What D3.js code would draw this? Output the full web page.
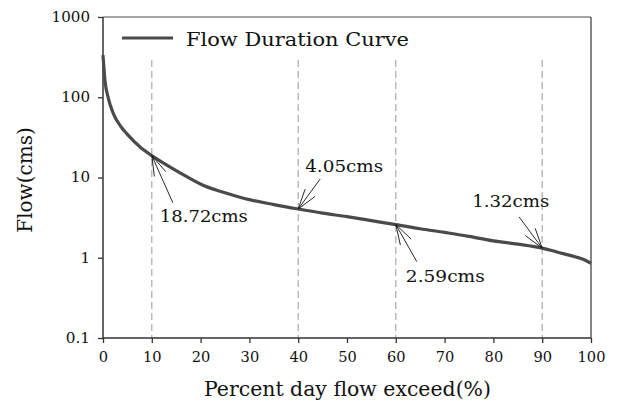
<!DOCTYPE html>
<html>
<head>
<meta charset="utf-8">
<script src="https://cdn.jsdelivr.net/npm/d3@7"></script>
<style>
  html, body { margin: 0; padding: 0; background: #fff; }
  svg { display: block; font-family: "DejaVu Serif", serif; }
</style>
</head>
<body>
<svg id="chart" width="618" height="402"></svg>
<script>
// ---- data ----
const percent = [0, 0.4, 1.1, 2.1, 3.8, 4.9, 7.6, 10, 12.5, 15.7, 20.5, 26, 30, 35, 40, 45, 50, 55, 60, 65, 70, 75, 80, 85, 90, 93, 96.7, 98.5, 100];
const flow    = [335, 163, 97, 63, 42, 35, 24, 18.72, 15, 11.5, 8, 6.2, 5.3, 4.6, 4.05, 3.6, 3.25, 2.9, 2.59, 2.3, 2.07, 1.85, 1.62, 1.48, 1.32, 1.18, 1.03, 0.95, 0.85];
const xTicks = [0, 10, 20, 30, 40, 50, 60, 70, 80, 90, 100];
const yTicks = [0.1, 1, 10, 100, 1000];
const yTickLabels = ["0.1", "1", "10", "100", "1000"];
const markPercent = [10, 40, 60, 90];
const markValue = [18.72, 4.05, 2.59, 1.32];
const markLabel = ["18.72cms", "4.05cms", "2.59cms", "1.32cms"];
const seriesName = "Flow Duration Curve";
const xTitle = "Percent day flow exceed(%)";
const yTitle = "Flow(cms)";

// ---- layout ----
const margin = {left: 103, right: 27, top: 17, bottom: 64};
const W = 618, H = 402;
const iw = W - margin.left - margin.right;
const ih = H - margin.top - margin.bottom;
// annotation layout: arrow tail offset from tip, label offset from tip, label width
const annLayout = [
  {tail: [21, 47], text: [8, 66], w: 88},
  {tail: [22, -30], text: [7, -37], w: 78},
  {tail: [21, 37], text: [10, 57], w: 79},
  {tail: [-23, -31], text: [-70, -41], w: 77}
];

const svg = d3.select("#chart");
const g = svg.append("g").attr("transform", `translate(${margin.left},${margin.top})`);

const x = d3.scaleLinear().domain([0, 100]).range([0, iw]);
const y = d3.scaleLog().domain([0.1, 1000]).range([ih, 0]);

function fitWidth(sel, w) {
  sel.attr("textLength", w).attr("lengthAdjust", "spacingAndGlyphs");
}

// dashed reference lines
g.selectAll("line.ref").data(markPercent).enter().append("line")
  .attr("class", "ref")
  .attr("x1", d => x(d)).attr("x2", d => x(d))
  .attr("y1", 43).attr("y2", ih)
  .attr("stroke", "#aaaaaa").attr("stroke-width", 1.2)
  .attr("stroke-dasharray", "7,4");

// top & right frame
g.append("line").attr("x1", 0).attr("x2", iw).attr("y1", 0).attr("y2", 0)
  .attr("stroke", "#888").attr("stroke-width", 1.3);
g.append("line").attr("x1", iw).attr("x2", iw).attr("y1", 0).attr("y2", ih)
  .attr("stroke", "#444").attr("stroke-width", 1.3);

// axes
const xAxis = d3.axisBottom(x).tickValues(xTicks).tickSize(5).tickPadding(9).tickFormat(d3.format("d"));
const yAxis = d3.axisLeft(y).tickValues(yTicks).tickSize(5).tickPadding(8)
  .tickFormat((d, i) => yTickLabels[i]);

const gx = g.append("g").attr("transform", `translate(0,${ih})`).call(xAxis);
const gy = g.append("g").call(yAxis);
[gx, gy].forEach(a => {
  a.select(".domain").attr("stroke", "#333").attr("stroke-width", 1.5);
  a.selectAll(".tick line").attr("stroke", "#333").attr("stroke-width", 1.3);
  a.selectAll(".tick text").attr("fill", "#111").attr("font-size", "14px")
    .attr("font-family", "DejaVu Serif, serif");
});
gx.selectAll(".tick text").each(function() {
  const n = this.textContent.length;
  d3.select(this).attr("textLength", n * 9.3).attr("lengthAdjust", "spacingAndGlyphs");
});
gy.selectAll(".tick text").each(function() {
  const t = this.textContent;
  const w = t.replace(/\./g, "").length * 9.6 + (t.includes(".") ? 5 : 0);
  d3.select(this).attr("textLength", w).attr("lengthAdjust", "spacingAndGlyphs");
});
gx.select(".domain").attr("d", `M0,0H${iw}`);
gy.select(".domain").attr("d", `M0,${ih}V0`);

// curve
const pts = percent.map((p, i) => [p, flow[i]]);
const line = d3.line().x(d => x(d[0])).y(d => y(d[1])).curve(d3.curveMonotoneX);
g.append("path").datum(pts).attr("d", line)
  .attr("fill", "none").attr("stroke", "#4a4a4a").attr("stroke-width", 3.2)
  .attr("stroke-linejoin", "round");

// annotations
markPercent.forEach((p, i) => {
  const tx = x(p), ty = y(markValue[i]);
  const L = annLayout[i];
  const sx = tx + L.tail[0], sy = ty + L.tail[1];
  const ang = Math.atan2(sy - ty, sx - tx);
  const hl = 21, spread = 17 * Math.PI / 180;
  const ga = g.append("g").attr("stroke", "#111").attr("stroke-width", 0.9);
  ga.append("line").attr("x1", tx).attr("y1", ty).attr("x2", sx).attr("y2", sy);
  [-1, 1].forEach(s => {
    ga.append("line").attr("x1", tx).attr("y1", ty)
      .attr("x2", tx + hl * Math.cos(ang + s * spread))
      .attr("y2", ty + hl * Math.sin(ang + s * spread));
  });
  const t = g.append("text").attr("x", tx + L.text[0]).attr("y", ty + L.text[1])
    .attr("font-size", "17.5px").attr("fill", "#111")
    .text(markLabel[i]);
  fitWidth(t, L.w);
});

// legend
g.append("line").attr("x1", 19).attr("x2", 70).attr("y1", 21).attr("y2", 21)
  .attr("stroke", "#4a4a4a").attr("stroke-width", 3.2);
const lt = g.append("text").attr("x", 83).attr("y", 29).attr("font-size", "19px").attr("fill", "#111")
  .text(seriesName);
fitWidth(lt, 223);

// axis titles
const xt = svg.append("text").attr("x", 204).attr("y", 396)
  .attr("font-size", "19.5px").attr("fill", "#111").text(xTitle);
fitWidth(xt, 287);
const yt = svg.append("text").attr("transform", `translate(32,180) rotate(-90)`)
  .attr("text-anchor", "middle").attr("font-size", "20px").attr("fill", "#111").text(yTitle);
</script>
</body>
</html>
